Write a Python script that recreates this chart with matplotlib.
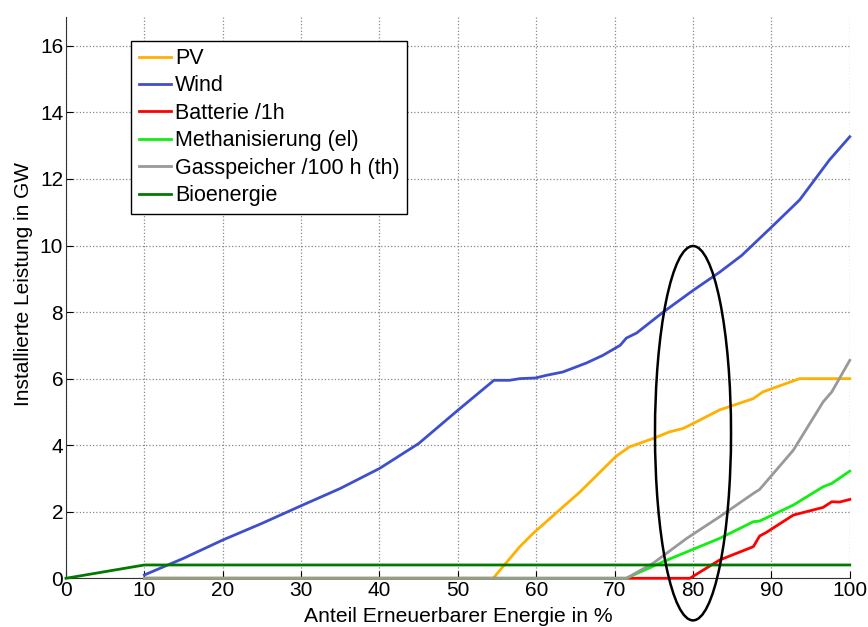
import matplotlib

matplotlib.use("Agg")
import matplotlib.pyplot as plt
from matplotlib.patches import Ellipse

plt.rcParams["font.family"] = ["Liberation Sans", "DejaVu Sans"]

# x in % renewable share, y in GW
pv_x = [10, 54.5, 57.9, 59.6, 65.6, 70.2, 71.9, 74.9, 77.0, 78.7, 80.0, 83.4, 87.7, 88.9, 93.6, 100]
pv_y = [0, 0, 0.95, 1.35, 2.6, 3.67, 3.95, 4.2, 4.4, 4.5, 4.65, 5.06, 5.4, 5.6, 6.0, 6.0]

wind_x = [10, 15, 20, 25, 30, 35, 40, 45, 50, 54.6, 56.6, 57.9, 59.9, 61.3, 63.4, 66.4, 68.5, 70.7,
          71.5, 72.8, 76.2, 80.0, 83.4, 86.2, 90.0, 93.6, 97.4, 100]
wind_y = [0.1, 0.6, 1.15, 1.65, 2.18, 2.7, 3.3, 4.05, 5.05, 5.95, 5.95, 6.0, 6.02, 6.1, 6.2, 6.47,
          6.7, 7.0, 7.22, 7.37, 8.0, 8.65, 9.2, 9.7, 10.55, 11.37, 12.57, 13.27]

bat_x = [10, 72, 79.6, 83.4, 87.7, 88.5, 89.3, 92.8, 96.6, 97.7, 98.7, 100]
bat_y = [0, 0, 0, 0.55, 0.95, 1.27, 1.37, 1.9, 2.13, 2.3, 2.29, 2.37]

meth_x = [10, 71.5, 76.2, 83.4, 87.7, 88.5, 92.8, 96.6, 97.7, 100]
meth_y = [0, 0, 0.5, 1.2, 1.7, 1.72, 2.2, 2.75, 2.85, 3.22]

gas_x = [10, 71.5, 74.9, 79.2, 83.4, 87.7, 88.5, 92.8, 96.6, 97.7, 100]
gas_y = [0, 0, 0.45, 1.2, 1.85, 2.55, 2.67, 3.85, 5.3, 5.6, 6.55]

bio_x = [0, 10, 100]
bio_y = [0, 0.4, 0.4]

fig = plt.figure(figsize=(8.68, 6.27), dpi=100)
ax = fig.add_axes([0.076, 0.0777, 0.903, 0.8953])

lw = 2.0
kw = dict(lw=lw, clip_on=False, zorder=3)
ax.plot(pv_x, pv_y, color="#FFB000", label="PV", **kw)
ax.plot(wind_x, wind_y, color="#3F4FCC", label="Wind", **kw)
ax.plot(bat_x, bat_y, color="#FF0000", label="Batterie /1h", **kw)
ax.plot(meth_x, meth_y, color="#11EE11", label="Methanisierung (el)", **kw)
ax.plot(gas_x, gas_y, color="#999999", label="Gasspeicher /100 h (th)", **kw)
ax.plot(bio_x, bio_y, color="#007A00", label="Bioenergie", **kw)

# highlight around 80 %
ax.add_patch(Ellipse((80, 4.36), 9.7, 11.25, fill=False, edgecolor="black", lw=1.8, clip_on=False, zorder=5))

ax.set_xlim(0, 100)
ax.set_ylim(0, 16.87)
ax.set_xticks(range(0, 101, 10))
ax.set_yticks(range(0, 17, 2))
ax.grid(True, linestyle=":", color="#888888", lw=0.9)
ax.spines["top"].set_visible(False)
ax.spines["right"].set_visible(False)
for s in ("left", "bottom"):
    ax.spines[s].set_color("#333333")
ax.tick_params(direction="in", length=5, labelsize=15, colors="black", pad=2)

ax.set_xlabel("Anteil Erneuerbarer Energie in %", fontsize=15.2, labelpad=5)
ax.set_ylabel("Installierte Leistung in GW", fontsize=15)
ax.yaxis.set_label_coords(-0.042, 0.525)

leg = ax.legend(loc="upper left", bbox_to_anchor=(0.083, 0.958), fontsize=15.5, frameon=True,
                fancybox=False, edgecolor="black", framealpha=1, borderpad=0.35,
                labelspacing=0.3, handlelength=1.5, handletextpad=0.2, borderaxespad=0)
leg.get_frame().set_linewidth(1.0)

fig.savefig("out.png", dpi=100)
